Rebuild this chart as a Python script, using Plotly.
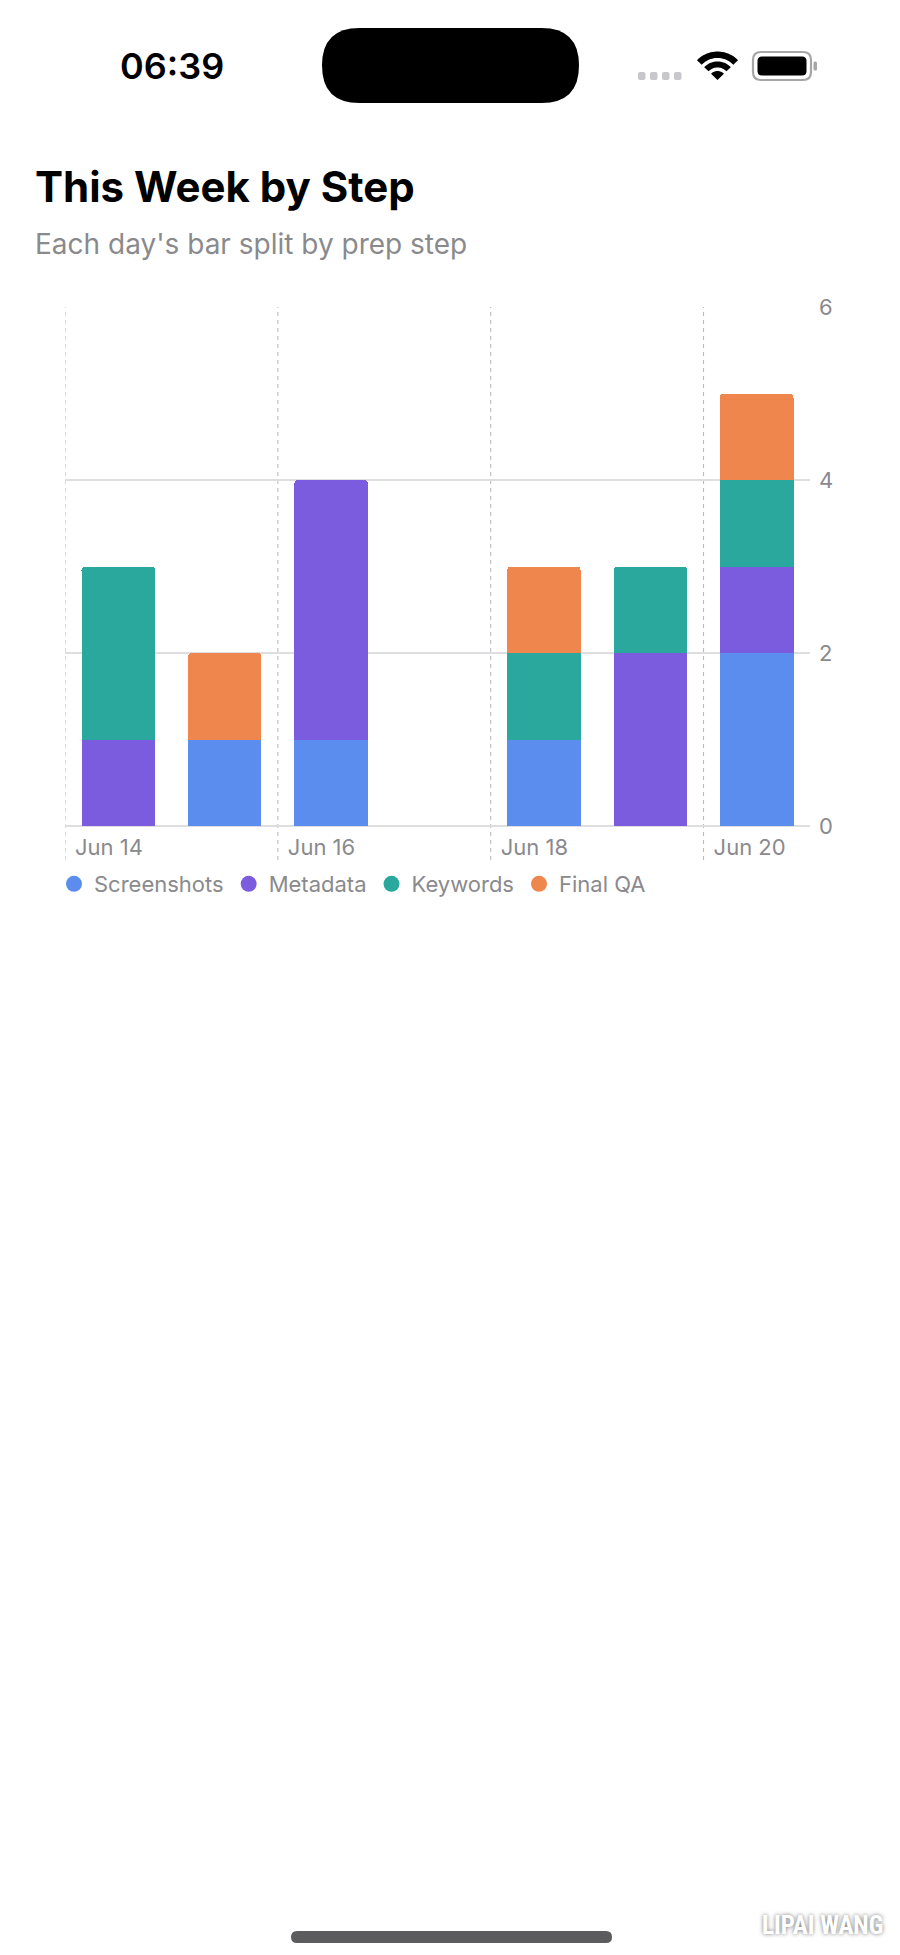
import numpy as np
import plotly.graph_objects as go

# ==========================================
# Data
# ==========================================

days = ["2025-06-14", "2025-06-15", "2025-06-16", "2025-06-17",
        "2025-06-18", "2025-06-19", "2025-06-20"]

screenshots = [0, 1, 1, 0, 1, 0, 2]
metadata = [1, 0, 3, 0, 0, 2, 1]
keywords = [2, 0, 0, 0, 1, 1, 1]
final_qa = [0, 1, 0, 0, 1, 0, 1]

series_names = ["Screenshots", "Metadata", "Keywords", "Final QA"]
series_colors = ["#5B8DEF", "#7B5CDF", "#2BA89D", "#EF864D"]

x_tick_vals = ["2025-06-14", "2025-06-16", "2025-06-18", "2025-06-20"]
x_tick_text = ["Jun 14", "Jun 16", "Jun 18", "Jun 20"]
y_tick_vals = [0, 2, 4, 6]

DAY_MS = 86400000
FONT = "Inter, Roboto, sans-serif"
GRAY = "#8A8A8E"

# ==========================================
# Pixel helpers (page pixels; body has an 8px margin)
# ==========================================

OFF = 8
PAGE_W, PAGE_H = 900, 1955
L, R, T, B = 65, 810, 307, 826
W, H = R - L, B - T


def fx(p):
    return (p - L) / W


def fy(p):
    return (B - p) / H


def rrect(x0, y0, x1, y1, r):
    pts = [
        f"M {fx(x0 + r)} {fy(y0)}",
        f"L {fx(x1 - r)} {fy(y0)}",
        f"Q {fx(x1)} {fy(y0)} {fx(x1)} {fy(y0 + r)}",
        f"L {fx(x1)} {fy(y1 - r)}",
        f"Q {fx(x1)} {fy(y1)} {fx(x1 - r)} {fy(y1)}",
        f"L {fx(x0 + r)} {fy(y1)}",
        f"Q {fx(x0)} {fy(y1)} {fx(x0)} {fy(y1 - r)}",
        f"L {fx(x0)} {fy(y0 + r)}",
        f"Q {fx(x0)} {fy(y0)} {fx(x0 + r)} {fy(y0)}",
        "Z",
    ]
    return " ".join(pts)


def band(cx, cy, r0, r1, half_angle=46):
    a = np.radians(np.linspace(-half_angle, half_angle, 24))
    outer = [(cx + r1 * np.sin(t), cy - r1 * np.cos(t)) for t in a]
    inner = [(cx + r0 * np.sin(t), cy - r0 * np.cos(t)) for t in a[::-1]]
    pts = outer + inner if r0 > 0 else outer + [(cx, cy)]
    path = "M " + " L ".join(f"{fx(x)} {fy(y)}" for x, y in pts) + " Z"
    return path


# ==========================================
# Plot
# ==========================================

fig = go.Figure()

for name, vals, color in zip(series_names,
                             [screenshots, metadata, keywords, final_qa],
                             series_colors):
    fig.add_trace(go.Bar(
        x=days,
        y=vals,
        name=name,
        marker=dict(color=color, line=dict(width=0)),
        xperiod=DAY_MS,
        xperiodalignment="middle",
        width=0.69 * DAY_MS,
        showlegend=False,
        hoverinfo="skip"
    ))
    # circle swatch for the legend
    fig.add_trace(go.Scatter(
        x=[None], y=[None],
        mode="markers",
        name=name,
        marker=dict(color=color, size=16, symbol="circle"),
        showlegend=True
    ))

shapes = []

# dashed vertical guides at labelled days
for d in x_tick_vals:
    shapes.append(dict(
        type="line", xref="x", yref="paper",
        x0=d, x1=d, y0=fy(860), y1=1,
        line=dict(color="#B6B6BA", width=1, dash="4px,4px"),
        layer="below"
    ))

# status bar: dynamic island
shapes.append(dict(type="path", xref="paper", yref="paper",
                   path=rrect(322, 28, 579, 103, 37.5),
                   fillcolor="black", line=dict(width=0)))

# signal dots
for i in range(4):
    x0 = 638 + i * 12
    shapes.append(dict(type="path", xref="paper", yref="paper",
                       path=rrect(x0, 72, x0 + 7.5, 80, 2),
                       fillcolor="#C7C7CC", line=dict(width=0)))

# wifi
for r0, r1 in [(0, 9), (12.5, 18.5), (22, 28.5)]:
    shapes.append(dict(type="path", xref="paper", yref="paper",
                       path=band(717.5, 80, r0, r1),
                       fillcolor="black", line=dict(width=0)))

# battery
shapes.append(dict(type="path", xref="paper", yref="paper",
                   path=rrect(753, 52, 811, 80, 8),
                   fillcolor="white", line=dict(color="#A6A6A9", width=2.2)))
shapes.append(dict(type="path", xref="paper", yref="paper",
                   path=rrect(757.5, 56.5, 806.5, 75.5, 4.5),
                   fillcolor="black", line=dict(width=0)))
shapes.append(dict(type="path", xref="paper", yref="paper",
                   path=rrect(813.5, 61.5, 817, 70.5, 1.5),
                   fillcolor="#A6A6A9", line=dict(width=0)))

# home indicator
shapes.append(dict(type="path", xref="paper", yref="paper",
                   path=rrect(291, 1931, 612, 1943, 6),
                   fillcolor="#5C5C5E", line=dict(width=0)))

annotations = [
    dict(text="This Week by Step", xref="paper", yref="paper",
         x=fx(33), y=fy(186), xanchor="left", yanchor="middle",
         showarrow=False,
         font=dict(family=FONT, size=42, color="black", weight=700)),
    dict(text="Each day's bar split by prep step", xref="paper", yref="paper",
         x=fx(33), y=fy(244), xanchor="left", yanchor="middle",
         showarrow=False,
         font=dict(family=FONT, size=28, color=GRAY)),
    dict(text="06:39", xref="paper", yref="paper",
         x=fx(172), y=fy(66), xanchor="center", yanchor="middle",
         showarrow=False,
         font=dict(family=FONT, size=36, color="black", weight=600)),
    dict(text="LIPAI WANG", xref="paper", yref="paper",
         x=fx(885), y=fy(1925), xanchor="right", yanchor="middle",
         showarrow=False,
         font=dict(family="Liberation Sans Narrow, Roboto Condensed, sans-serif",
                   size=25, color="white", weight=700,
                   shadow="0px 0px 4px rgba(0,0,0,0.55)")),
]

fig.update_layout(
    barmode="stack",
    barcornerradius=4,
    width=PAGE_W - OFF,
    height=PAGE_H - OFF,
    margin=dict(l=L - OFF, r=PAGE_W - R, t=T - OFF, b=PAGE_H - B, pad=0),
    paper_bgcolor="white",
    plot_bgcolor="white",
    font=dict(family=FONT, color=GRAY),
    showlegend=True,
    legend=dict(
        orientation="h",
        traceorder="normal",
        x=fx(54), xanchor="left",
        y=fy(884), yanchor="middle",
        font=dict(family=FONT, size=22, color=GRAY),
        itemclick=False,
        bgcolor="rgba(0,0,0,0)"
    ),
    xaxis=dict(
        type="date",
        range=["2025-06-14", "2025-06-21"],
        tickvals=x_tick_vals,
        ticktext=x_tick_text,
        ticklabelposition="outside right",
        ticklabelshift=10,
        ticklabelstandoff=6,
        ticks="",
        showgrid=False,
        zeroline=False,
        showline=False,
        tickfont=dict(family=FONT, size=22, color=GRAY),
        fixedrange=True
    ),
    yaxis=dict(
        range=[0, 6],
        tickvals=y_tick_vals,
        side="right",
        ticks="",
        ticklabelstandoff=8,
        showgrid=True,
        gridcolor="#DEDEE0",
        gridwidth=1.5,
        zeroline=True,
        zerolinecolor="#DEDEE0",
        zerolinewidth=2,
        showline=False,
        tickfont=dict(family=FONT, size=22, color=GRAY),
        fixedrange=True
    ),
    shapes=shapes,
    annotations=annotations,
    hovermode=False
)

fig.write_html("out.html")
